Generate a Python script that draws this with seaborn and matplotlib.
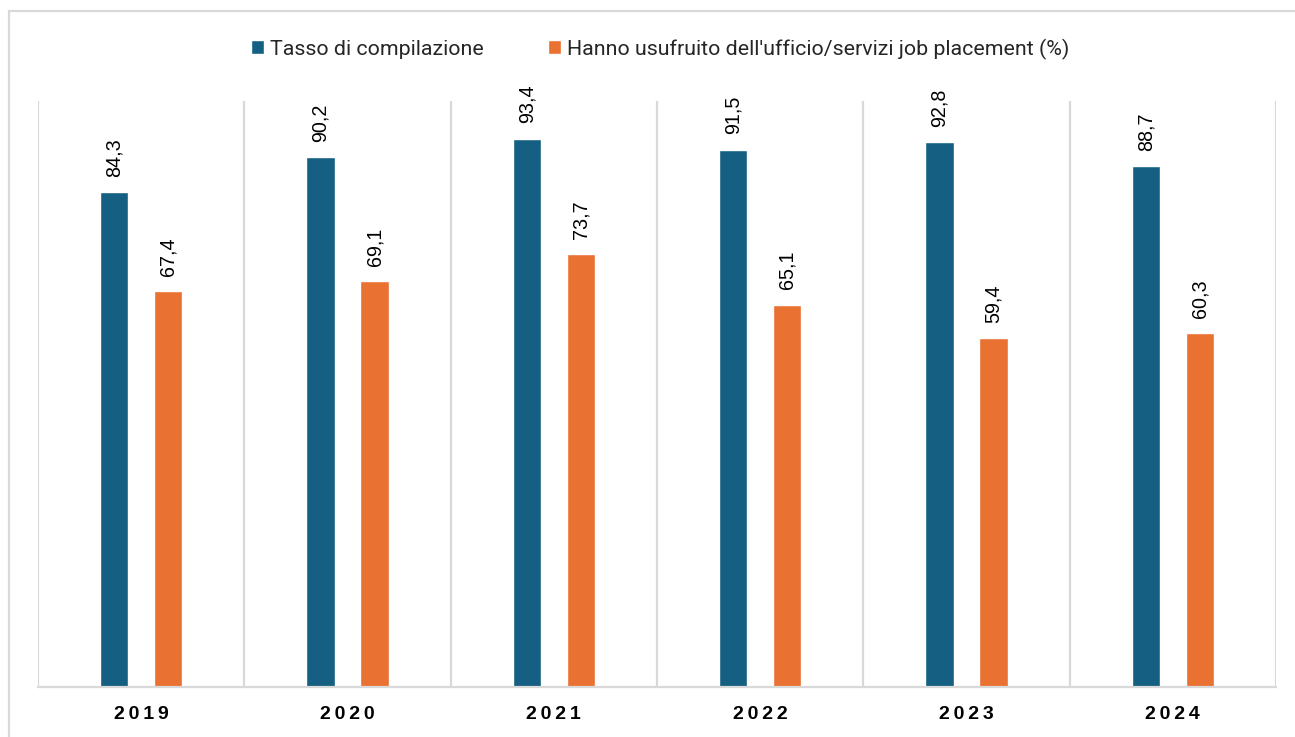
import numpy as np
import pandas as pd
import seaborn as sns
import matplotlib.pyplot as plt
from matplotlib.patches import Rectangle

# Values per year
anni = ["2019", "2020", "2021", "2022", "2023", "2024"]
tasso_compilazione = [84.3, 90.2, 93.4, 91.5, 92.8, 88.7]
job_placement = [67.4, 69.1, 73.7, 65.1, 59.4, 60.3]
serie = ["Tasso di compilazione",
         "Hanno usufruito dell'ufficio/servizi job placement (%)"]

df = pd.DataFrame({
    "anno": anni * 2,
    "valore": tasso_compilazione + job_placement,
    "serie": [serie[0]] * len(anni) + [serie[1]] * len(anni),
})

sns.set_theme(style="white")
plt.rcParams["font.family"] = ["Liberation Sans", "DejaVu Sans"]

W, H = 1295, 737
fig = plt.figure(figsize=(W / 100, H / 100), dpi=100)
ax = fig.add_axes([38 / W, 1 - 687 / H, (1276 - 38) / W, (687 - 101) / H])

palette = {serie[0]: "#156082", serie[1]: "#E97132"}
sns.barplot(data=df, x="anno", y="valore", hue="serie", order=anni,
            hue_order=serie, palette=palette, width=0.524, gap=0.48,
            saturation=1, ax=ax, legend=True)

for cont in ax.containers:
    ax.bar_label(cont, labels=[f"{v:.1f}".replace(".", ",") for v in cont.datavalues],
                 rotation=90, padding=11, fontsize=14.2, color="#000000")

ax.set_xlim(-0.5, len(anni) - 0.5)
ax.set_ylim(0, 99.8)
ax.set_yticks([])
ax.set_xlabel("")
ax.set_ylabel("")

# Category separators
ax.set_xticks(np.arange(-0.5, len(anni)), minor=True)
ax.grid(True, which="minor", axis="x", color="#D9D9D9", linewidth=1.6)
ax.grid(False, which="major")
ax.tick_params(axis="x", which="both", length=0)
ax.set_xticks(range(len(anni)))
ax.set_xticklabels(["\u2009".join(a) for a in anni], fontsize=14,
                   fontweight="bold", color="#000000")
ax.tick_params(axis="x", which="major", pad=14)

for side in ["top", "left", "right"]:
    ax.spines[side].set_visible(False)
ax.spines["bottom"].set_color("#D9D9D9")
ax.spines["bottom"].set_linewidth(1.6)

handles, labels = ax.get_legend_handles_labels()
ax.get_legend().remove()
fig.legend(handles, labels, loc="center", bbox_to_anchor=(660 / W, 1 - 49 / H),
           ncol=2, frameon=False, handlelength=0.62, handleheight=0.62,
           handletextpad=0.28, columnspacing=3.0,
           prop={"family": "Roboto", "size": 15.4})

# Outer frame
fig.patches.append(Rectangle((9 / W, -0.1), 1.2, 1 - 11 / H + 0.1,
                             transform=fig.transFigure, fill=False,
                             edgecolor="#D9D9D9", linewidth=1.6))

fig.savefig("out.png", dpi=100)
